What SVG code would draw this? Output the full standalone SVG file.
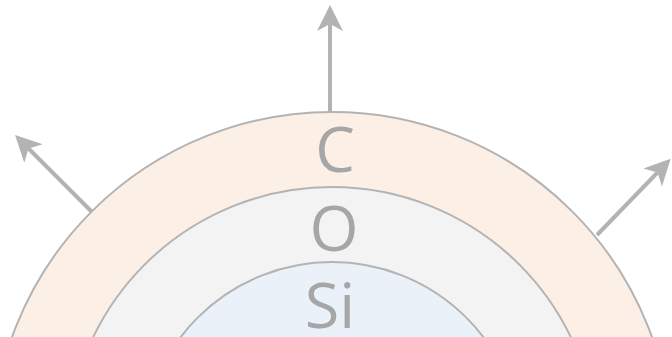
<svg xmlns="http://www.w3.org/2000/svg" width="672" height="337" viewBox="0 0 672 337">
<style>
.ring{stroke:#B3B3B3;stroke-width:2}
.lbl{font-family:"Open Sans","Noto Sans",sans-serif;font-size:63px;fill:#A6A6A6;text-anchor:middle}
.arr{stroke:#B3B3B3;stroke-width:4;fill:none}
</style>
<defs>
<marker id="ah" markerUnits="userSpaceOnUse" markerWidth="40" markerHeight="40" viewBox="-10 -20 40 40" refX="0" refY="0" orient="auto" overflow="visible">
<path d="M19,0 L-7,-13 L0,0 L-7,13 Z" fill="#B3B3B3"/>
</marker>
</defs>
<rect width="672" height="337" fill="#FFFFFF"/>
<g id="layer-C">
<circle class="ring" cx="332" cy="452" r="340" fill="#FCEFE6"/>
<text class="lbl" x="335" y="172">C</text>
</g>
<g id="layer-O">
<circle class="ring" cx="332" cy="452" r="265" fill="#F3F3F3"/>
<text class="lbl" x="334" y="251">O</text>
</g>
<g id="layer-Si">
<circle class="ring" cx="332" cy="452" r="190" fill="#EAF1F9"/>
<text class="lbl" x="330" y="328">Si</text>
</g>
<g id="connectors">
<line class="arr" x1="330" y1="112" x2="330" y2="24" marker-end="url(#ah)"/>
<line class="arr" x1="92" y1="212" x2="28.5" y2="148.5" marker-end="url(#ah)"/>
<line class="arr" x1="597" y1="235" x2="657.5" y2="172.5" marker-end="url(#ah)"/>
</g>
</svg>
